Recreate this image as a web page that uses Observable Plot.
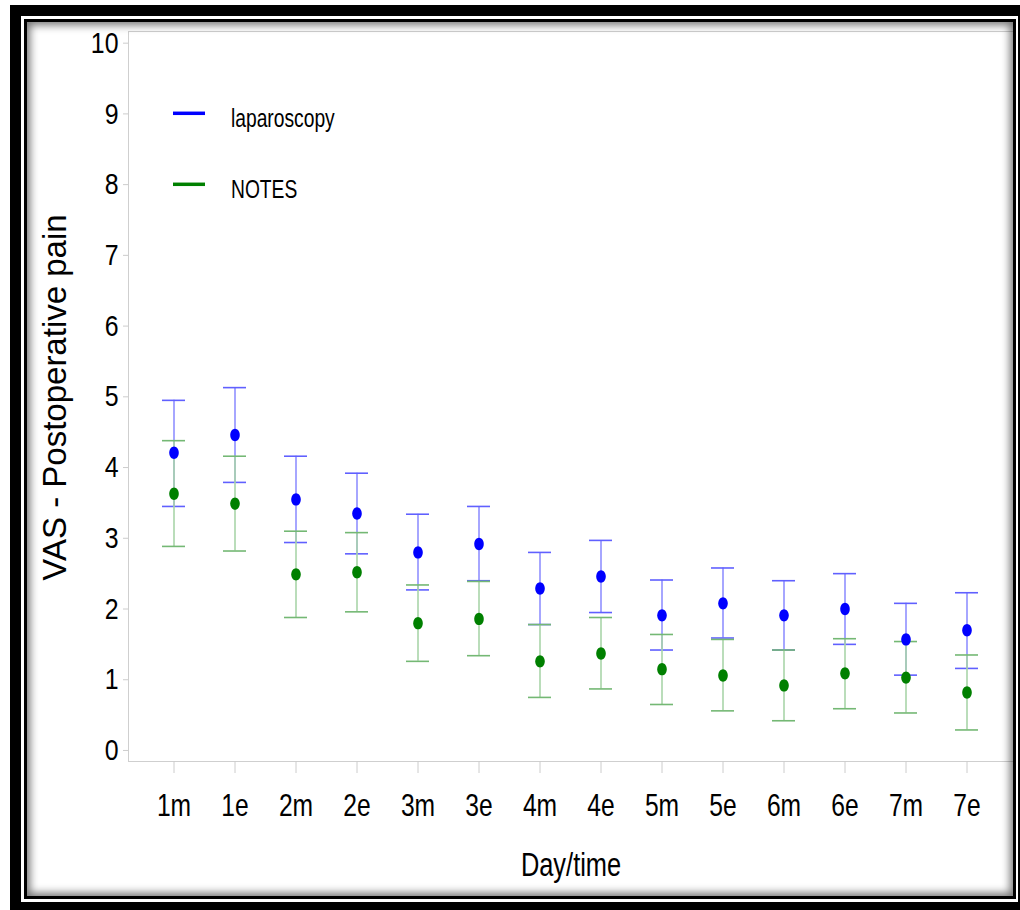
<!DOCTYPE html>
<html>
<head>
<meta charset="utf-8">
<script src="https://cdn.jsdelivr.net/npm/d3@7"></script>
<script src="https://cdn.jsdelivr.net/npm/@observablehq/plot@0.6"></script>
<style>
  html, body { margin: 0; padding: 0; background: #fff; }
  body { width: 1020px; height: 910px; position: relative; overflow: hidden; }
  #outer { position: absolute; left: 10px; top: 5px; width: 1030px; height: 910px; background: #000; }
  #white { position: absolute; left: 21px; top: 16px; width: 997px; height: 886px; background: #fff; }
  #chart { position: absolute; left: 0; top: 0; }
  #chart svg { background: transparent !important; }
  #inner { position: absolute; left: 24px; top: 19px; width: 986px; height: 874px;
           border: 3px solid #000; box-shadow: inset 0 0 9px 3px rgba(0,0,0,0.55);
           pointer-events: none; }
  #legend { position: absolute; left: 0; top: 0; pointer-events: none; }
</style>
</head>
<body>
<div id="outer"></div>
<div id="white"></div>
<div id="chart"></div>
<svg id="legend" width="1020" height="910"></svg>
<div id="inner"></div>
<script>
// ---- data ----
const categories = ["1m","1e","2m","2e","3m","3e","4m","4e","5m","5e","6m","6e","7m","7e"];
const lapMean  = [4.21, 4.46, 3.55, 3.35, 2.80, 2.92, 2.29, 2.46, 1.91, 2.08, 1.91, 2.00, 1.57, 1.70];
const lapLow   = [3.45, 3.79, 2.94, 2.78, 2.27, 2.40, 1.78, 1.95, 1.42, 1.59, 1.42, 1.50, 1.065, 1.16];
const lapHigh  = [4.95, 5.13, 4.16, 3.92, 3.34, 3.45, 2.80, 2.97, 2.41, 2.58, 2.40, 2.50, 2.08, 2.23];
const notesMean = [3.63, 3.49, 2.49, 2.52, 1.80, 1.86, 1.26, 1.37, 1.15, 1.06, 0.92, 1.09, 1.03, 0.82];
const notesLow  = [2.885, 2.82, 1.88, 1.96, 1.26, 1.34, 0.75, 0.87, 0.65, 0.56, 0.42, 0.59, 0.53, 0.29];
const notesHigh = [4.38, 4.16, 3.10, 3.08, 2.34, 2.39, 1.78, 1.88, 1.64, 1.57, 1.42, 1.58, 1.54, 1.35];
const yTicks = [0,1,2,3,4,5,6,7,8,9,10];
const seriesNames = ["laparoscopy", "NOTES"];

const lap = categories.map((c, i) => ({cat: c, mean: lapMean[i], lo: lapLow[i], hi: lapHigh[i]}));
const notes = categories.map((c, i) => ({cat: c, mean: notesMean[i], lo: notesLow[i], hi: notesHigh[i]}));

const FONT = "'Liberation Sans', Arial, Helvetica, sans-serif";
const SQUEEZE = 0.77; // the reference is horizontally compressed

// elliptical marker (the reference image is horizontally squeezed)
const ellipse = {
  draw(ctx, size) {
    const r = Math.sqrt(size / Math.PI), ry = r, rx = r * 0.77, k = 0.5523;
    ctx.moveTo(rx, 0);
    ctx.bezierCurveTo(rx, k * ry, k * rx, ry, 0, ry);
    ctx.bezierCurveTo(-k * rx, ry, -rx, k * ry, -rx, 0);
    ctx.bezierCurveTo(-rx, -k * ry, -k * rx, -ry, 0, -ry);
    ctx.bezierCurveTo(k * rx, -ry, rx, -k * ry, rx, 0);
    ctx.closePath();
  }
};

const blueBar = "#9090ff", blueCap = "#6060ff", blueDot = "#0000ff";
const greenBar = "#a9d5a9", greenCap = "#74b874", greenDot = "#008000";

const chart = Plot.plot({
  width: 1020,
  height: 910,
  marginLeft: 128,
  marginRight: 7,
  marginTop: 31,
  marginBottom: 149,
  style: {background: "transparent", fontFamily: FONT, color: "black"},
  x: {type: "band", domain: categories, paddingInner: 0.62, paddingOuter: 0.564},
  y: {domain: [-0.156, 10.165]},
  marks: [
    Plot.frame({stroke: "#cfcfcf"}),
    Plot.axisY(yTicks, {tickSize: 5, tickPadding: 5, tickFormat: d3.format("d"), stroke: "#cccccc", fill: "black", fontSize: 30, fontFamily: FONT, label: null}),
    Plot.axisX({tickSize: 12, tickPadding: 20, stroke: "#cccccc", fill: "black", fontSize: 32, fontFamily: FONT, label: null}),
    // laparoscopy error bars
    Plot.ruleX(lap, {x: "cat", y1: "lo", y2: "hi", stroke: blueBar, strokeWidth: 1.6}),
    Plot.tickY(lap, {x: "cat", y: "hi", stroke: blueCap, strokeWidth: 1.6}),
    Plot.tickY(lap, {x: "cat", y: "lo", stroke: blueCap, strokeWidth: 1.6}),
    // NOTES error bars
    Plot.ruleX(notes, {x: "cat", y1: "lo", y2: "hi", stroke: greenBar, strokeWidth: 1.6}),
    Plot.tickY(notes, {x: "cat", y: "hi", stroke: greenCap, strokeWidth: 1.6}),
    Plot.tickY(notes, {x: "cat", y: "lo", stroke: greenCap, strokeWidth: 1.6}),
    // means
    Plot.dot(lap, {x: "cat", y: "mean", r: 6.2, symbol: ellipse, fill: blueDot, stroke: "none"}),
    Plot.dot(notes, {x: "cat", y: "mean", r: 6.2, symbol: ellipse, fill: greenDot, stroke: "none"}),
    // axis titles
    Plot.text(["VAS - Postoperative pain"], {frameAnchor: "left", dx: -73, dy: 1, rotate: -90, textAnchor: "middle", fontSize: 33, fontFamily: FONT, fill: "black", lineAnchor: "middle"}),
    Plot.text(["Day/time"], {frameAnchor: "bottom", dy: 104, textAnchor: "middle", fontSize: 33, fontFamily: FONT, fill: "black", lineAnchor: "middle"})
  ]
});
document.getElementById("chart").append(chart);

// horizontally squeeze horizontal texts to mimic the reference's compressed look
function squeeze(t, s) {
  let tr = t.getAttribute("transform") || "";
  const x = t.getAttribute("x");
  if (x !== null && !isNaN(+x)) {
    tr += ` translate(${+x},0)`;
    t.removeAttribute("x");
  }
  t.setAttribute("transform", `${tr} scale(${s},1)`);
}
chart.querySelectorAll('g[aria-label="x-axis tick label"] text').forEach(t => squeeze(t, SQUEEZE));
chart.querySelectorAll('g[aria-label="y-axis tick label"] text').forEach(t => squeeze(t, 0.83));
chart.querySelectorAll('g[aria-label="text"] text').forEach(t => {
  if (t.textContent === "Day/time") squeeze(t, SQUEEZE);
});

// legend (inside plot area, top-left)
const lg = d3.select("#legend");
const legendItems = [
  {name: seriesNames[0], color: blueDot, y: 113.3},
  {name: seriesNames[1], color: greenDot, y: 184.3}
];
for (const it of legendItems) {
  lg.append("line").attr("x1", 173).attr("x2", 205).attr("y1", it.y).attr("y2", it.y)
    .attr("stroke", it.color).attr("stroke-width", 3.5);
  lg.append("text").attr("transform", `translate(231,${it.y + 14}) scale(${SQUEEZE},1)`)
    .attr("font-family", FONT).attr("font-size", 25).attr("fill", "black").text(it.name);
}
</script>
</body>
</html>
